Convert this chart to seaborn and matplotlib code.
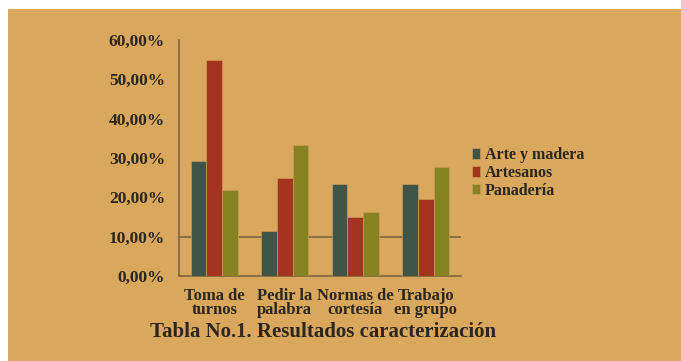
import numpy as np
import pandas as pd
import seaborn as sns
import matplotlib.pyplot as plt
from matplotlib.patches import Rectangle

# datos
categorias = ["Toma de\nturnos", "Pedir la\npalabra", "Normas de\ncortesía", "Trabajo\nen grupo"]
grupos = ["Arte y madera", "Artesanos", "Panadería"]
arte_madera = [29.2, 11.5, 23.4, 23.4]
artesanos = [54.9, 24.9, 14.9, 19.6]
panaderia = [21.9, 33.2, 16.3, 27.6]
yticks = [0, 10, 20, 30, 40, 50, 60]
ytick_labels = ["0,00%", "10,00%", "20,00%", "30,00%", "40,00%", "50,00%", "60,00%"]

df = pd.DataFrame({
    "categoria": categorias * 3,
    "grupo": [grupos[0]] * 4 + [grupos[1]] * 4 + [grupos[2]] * 4,
    "valor": arte_madera + artesanos + panaderia,
})

fondo = "#D9A85C"
eje = "#7A6540"
texto = "#2B2620"
colores = ["#3F5547", "#A5341E", "#868224"]

sns.set_style("white")
plt.rcParams['font.family'] = ['Liberation Serif', 'DejaVu Serif']

fig = plt.figure(figsize=(6.81, 3.61), dpi=100)
fig.patch.set_facecolor("white")
fig.patches.append(Rectangle((8 / 681, 0), 1, 1 - 9 / 361, transform=fig.transFigure,
                             facecolor=fondo, edgecolor="none", zorder=-10))

ax = fig.add_axes([179 / 681, 1 - 276 / 361, 282 / 681, 236 / 361])
ax.set_facecolor("none")
ax.set_zorder(5)

sns.barplot(data=df, x="categoria", y="valor", hue="grupo", palette=colores,
            saturation=1, width=0.66, edgecolor="#C99A55", linewidth=0.5, ax=ax, zorder=3)

ax.axhline(10, color=eje, lw=1.2, zorder=1)
ax.set_ylim(0, 60)
ax.set_xlim(-0.5, 3.5)
ax.set_yticks(yticks)
ax.set_yticklabels(ytick_labels, fontsize=12.5, fontweight="bold", color=texto)
ax.tick_params(axis="y", length=0, pad=10)
ax.tick_params(axis="x", which="major", length=0, pad=9)
ax.set_xticks([-0.5, 0.5, 1.5, 2.5, 3.5], minor=True)
ax.tick_params(axis="x", which="minor", length=5, width=1.2, color=eje, direction="out")
for t in ax.get_xticklabels():
    t.set_fontsize(12)
    t.set_fontweight("bold")
    t.set_color(texto)
    t.set_linespacing(0.82)
ax.set_xlabel("")
ax.set_ylabel("")

for s in ["top", "right"]:
    ax.spines[s].set_visible(False)
for s in ["left", "bottom"]:
    ax.spines[s].set_color(eje)
    ax.spines[s].set_linewidth(1.2)

h, l = ax.get_legend_handles_labels()
ax.legend(h, l, loc="center left", bbox_to_anchor=(1.0, 0.436), frameon=False,
          handlelength=0.5, handleheight=0.6, handletextpad=0.3, labelspacing=0.12,
          borderaxespad=0.3, prop={"size": 11.5, "weight": "bold"}, labelcolor=texto)

fig.text(323 / 681, 1 - 332 / 361, "Tabla No.1. Resultados caracterización",
         ha="center", va="center", fontsize=15, fontweight="bold", color=texto)

plt.savefig("out.png", dpi=100)
plt.close()
